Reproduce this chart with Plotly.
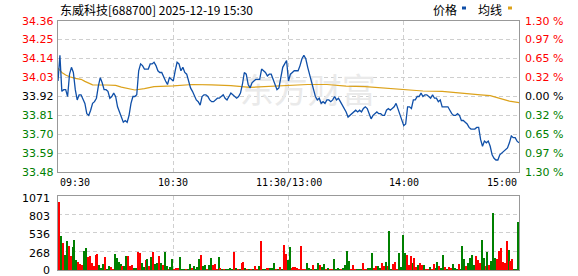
import plotly.graph_objects as go

# ---------------- data ----------------
prev_close = 33.92
title_text = "东威科技[688700] 2025-12-19 15:30"

minutes = list(range(241))
price = [
    34.01, 34.16, 33.95, 33.96, 33.96, 33.92, 34.05, 34.09, 34.06, 33.96,
    33.90, 33.93, 33.93, 33.90, 33.88, 33.82, 33.81, 33.84, 33.88, 33.89,
    33.91, 33.98, 34.03, 34.00, 33.96, 33.96, 33.95, 33.91, 33.92, 33.94,
    33.92, 33.86, 33.83, 33.79, 33.77, 33.78, 33.77, 33.81, 33.88, 33.92,
    33.92, 33.93, 34.07, 34.11, 34.10, 34.08, 34.08, 34.08, 34.11, 34.11,
    34.12, 34.10, 34.07, 34.06, 34.06, 34.03, 34.01, 33.99, 34.03, 34.02,
    34.01, 34.07, 34.12, 34.11, 34.07, 34.09, 34.06, 34.05, 34.00, 33.97,
    33.95, 33.92, 33.90, 33.89, 33.87, 33.92, 33.93, 33.93, 33.92, 33.90,
    33.89, 33.89, 33.90, 33.91, 33.91, 33.92, 33.93, 33.91, 33.90, 33.92,
    33.94, 33.93, 33.92, 33.91, 33.92, 33.94, 33.99, 34.06, 34.05, 33.99,
    33.97, 34.00, 34.01, 34.02, 34.02, 34.02, 34.08, 34.07, 34.06, 34.04,
    34.05, 34.05, 34.02, 33.99, 33.96, 33.97, 34.03, 34.09, 34.11, 34.13,
    34.01, 34.05, 34.06, 34.07, 34.07, 34.07, 34.10, 34.14, 34.16, 34.14,
    34.09, 34.05, 34.01, 33.96, 33.92, 33.90, 33.91, 33.88, 33.89, 33.88,
    33.90, 33.90, 33.89, 33.90, 33.92, 33.90, 33.91, 33.89, 33.87, 33.85,
    33.83, 33.80, 33.81, 33.82, 33.83, 33.84, 33.83, 33.84, 33.83, 33.85,
    33.86, 33.85, 33.82, 33.79, 33.81, 33.82, 33.83, 33.82, 33.82, 33.81,
    33.81, 33.84, 33.85, 33.84, 33.85, 33.86, 33.88, 33.85, 33.81, 33.78,
    33.75, 33.76, 33.86, 33.86, 33.85, 33.90, 33.90, 33.92, 33.92, 33.94,
    33.92, 33.93, 33.93, 33.92, 33.91, 33.93, 33.91, 33.91, 33.89, 33.90,
    33.86, 33.86, 33.86, 33.86, 33.84, 33.82, 33.81, 33.81, 33.82, 33.81,
    33.78, 33.78, 33.77, 33.76, 33.74, 33.73, 33.73, 33.73, 33.74, 33.74,
    33.67, 33.63, 33.66, 33.65, 33.66, 33.63, 33.58, 33.56, 33.55, 33.55,
    33.58, 33.59, 33.60, 33.61, 33.62, 33.65, 33.69, 33.68, 33.68, 33.66,
    33.65,
]

avg_minutes = [0, 2, 4, 6, 9, 12, 14, 16, 18, 25, 30, 33, 37, 40, 45, 50, 60,
               70, 80, 90, 100, 110, 120, 130, 140, 150, 160, 170, 180, 190,
               200, 210, 220, 225, 230, 235, 240]
avg_price = [34.085, 34.06, 34.045, 34.035, 34.026, 34.02, 34.008, 33.997,
             33.988, 33.987, 33.985, 33.975, 33.965, 33.958, 33.966, 33.977,
             33.982, 33.99, 33.988, 33.983, 33.973, 33.98, 33.985, 33.99,
             33.99, 33.98, 33.978, 33.97, 33.958, 33.952, 33.95, 33.942,
             33.93, 33.925, 33.91, 33.893, 33.884]

vol_minutes = list(range(1, 241))
volume = [
    984, 492, 391, 217, 420, 347, 203, 333, 434, 145,
    116, 87, 77, 275, 318, 188, 203, 101, 58, 217,
    232, 72, 29, 87, 188, 14, 58, 43, 14, 232,
    174, 116, 87, 58, 58, 203, 203, 58, 72, 29,
    29, 260, 246, 101, 43, 145, 159, 58, 188, 260,
    87, 101, 203, 101, 72, 260, 58, 14, 43, 159,
    14, 29, 29, 188, 14, 14, 14, 14, 87, 29,
    58, 14, 43, 159, 217, 58, 72, 14, 72, 174,
    72, 87, 14, 188, 29, 14, 14, 14, 14, 29,
    14,
    260, 29, 14, 14, 101, 116, 29, 14, 14, 14,
    14, 58, 14, 58, 420, 14, 14, 29, 29, 29,
    29, 101, 14, 14, 43, 14, 362, 232, 145, 333, 29,
    # afternoon
    43, 43, 29, 14, 347, 14, 14, 101, 29, 14,
    72, 14, 14, 101, 72, 43, 87, 14, 29, 14,
    14, 159, 14, 29, 14, 14, 29, 72, 275, 130,
    14, 72, 14, 14, 14, 14, 101, 14, 14, 29,
    29, 246, 29, 58, 58, 29, 101, 58, 116, 58,
    564, 14, 87, 116, 14, 246, 43, 507, 246, 217,
    72, 203, 101, 174, 43, 72, 101, 72, 72, 14,
    14, 43, 14, 87, 29, 116, 58, 29, 217, 43,
    14, 43, 29, 87, 29, 14, 87,
    14,
    347, 159, 58, 101, 174, 217, 72, 203, 145, 101,
    434, 174, 58, 260, 72, 130, 825, 174, 159, 275,
    318, 116, 101, 420, 289, 130, 159, 14,
    14,
    695,
]
# 1 = price up (red), -1 = price down (green)
vol_dir = [
    1, -1, 1, -1, -1, 1, 1, -1, -1, -1,
    1, 1, 1, -1, -1, 1, 1, 1, 1, 1,
    1, -1, -1, -1, 1, -1, -1, 1, 1, -1,
    -1, -1, -1, 1, -1, -1, 1, 1, 1, -1,
    -1, 1, 1, -1, -1, 1, -1, 1, -1, 1,
    -1, -1, 1, -1, 1, -1, -1, 1, -1, -1,
    1, 1, 1, -1, -1, -1, 1, -1, -1, 1,
    -1, -1, -1, -1, 1, -1, -1, 1, -1, -1,
    1, 1, 1, -1, 1, -1, 1, -1, -1, -1,
    -1,
    1, -1, 1, -1, 1, 1, -1, 1, -1, 1,
    -1, 1, 1, -1, 1, -1, -1, 1, 1, -1,
    -1, -1, 1, -1, 1, -1, 1, 1, -1, -1, 1,
    # afternoon
    1, 1, 1, 1, 1, 1, 1, -1, -1, -1,
    1, -1, -1, -1, 1, -1, -1, 1, -1, 1,
    1, -1, -1, -1, -1, 1, -1, -1, -1, -1,
    1, 1, 1, -1, -1, -1, 1, 1, 1, -1,
    -1, -1, 1, 1, -1, -1, 1, 1, -1, 1,
    -1, -1, 1, 1, 1, -1, -1, -1, -1, 1,
    1, 1, -1, 1, 1, -1, 1, 1, -1, 1,
    1, -1, 1, 1, -1, -1, 1, -1, -1, 1,
    -1, 1, 1, -1, -1, -1, 1,
    -1,
    -1, -1, 1, -1, -1, -1, -1, 1, 1, 1,
    -1, -1, 1, -1, 1, -1, -1, -1, 1, 1,
    1, 1, 1, 1, -1, 1, 1, -1,
    -1,
    -1,
]

price_ticks = [34.36, 34.25, 34.14, 34.03, 33.92, 33.81, 33.70, 33.59, 33.48]
pct_labels = ["1.30 %", "0.97 %", "0.65 %", "0.32 %", "0.00 %",
              "0.32 %", "0.65 %", "0.97 %", "1.30 %"]
vol_ticks = [1071, 803, 536, 268, 0]
time_ticks = [0, 60, 120, 180, 240]
time_labels = ["09:30", "10:30", "11:30/13:00", "14:00", "15:00"]
legend_labels = ["价格", "均线"]
watermark = "东方财富"

assert len(price) == len(minutes)
assert len(volume) == len(vol_minutes) == len(vol_dir)
assert len(avg_price) == len(avg_minutes)

# ---------------- styling ----------------
W, H = 578, 276
L, R = 58, 519
P_TOP, P_BOT = 21, 172
V_TOP, V_BOT = 196, 270
RED, GREEN, BLACK = "#ff0000", "#008000", "#000000"
BLUE, GOLD = "#0f4fa8", "#dca21b"
GRID = "#cfcfcf"
FRAME = "#999999"
NUM_FONT = "DejaVu Sans"
MONO_FONT = "DejaVu Sans Mono"
CJK_FONT = "Noto Sans CJK SC"


def px_x(p):
    return p / W


def px_y(p):
    return 1 - p / H


def dir_color(v):
    if v > prev_close + 1e-9:
        return RED
    if v < prev_close - 1e-9:
        return GREEN
    return BLACK


fig = go.Figure()

# watermark (under the lines)
fig.add_trace(go.Scatter(
    x=[130], y=[33.93], mode="text", text=[watermark],
    textfont=dict(family=CJK_FONT, size=34, color="#eaeaea"),
    hoverinfo="skip", xaxis="x", yaxis="y"))

fig.add_trace(go.Scatter(
    x=avg_minutes, y=avg_price, mode="lines",
    line=dict(color=GOLD, width=1.2), hoverinfo="skip",
    xaxis="x", yaxis="y"))
fig.add_trace(go.Scatter(
    x=minutes, y=price, mode="lines",
    line=dict(color=BLUE, width=1.3), hoverinfo="skip",
    xaxis="x", yaxis="y"))

fig.add_trace(go.Bar(
    x=vol_minutes, y=volume,
    marker=dict(color=[RED if d > 0 else GREEN for d in vol_dir],
                line=dict(width=0)),
    width=0.6, offset=-0.7, hoverinfo="skip",
    xaxis="x2", yaxis="y2"))

axis_common = dict(
    showgrid=True, gridcolor=GRID, griddash="4px,3px", gridwidth=1,
    showline=True, mirror=True, linecolor=FRAME, linewidth=1,
    zeroline=False, ticks="", showticklabels=False, fixedrange=True)

fig.update_layout(
    width=W, height=H,
    margin=dict(l=0, r=0, t=0, b=0),
    paper_bgcolor="white", plot_bgcolor="white",
    showlegend=False, bargap=0,
    xaxis=dict(domain=[px_x(L), px_x(R)], range=[0, 240],
               tickvals=time_ticks[1:-1], anchor="y", **axis_common),
    yaxis=dict(domain=[px_y(P_BOT), px_y(P_TOP)],
               range=[price_ticks[-1], price_ticks[0]],
               tickvals=price_ticks[1:-1], anchor="x", **axis_common),
    xaxis2=dict(domain=[px_x(L), px_x(R)], range=[0, 240],
                tickvals=time_ticks[1:-1], anchor="y2", **axis_common),
    yaxis2=dict(domain=[px_y(V_BOT), px_y(V_TOP)],
                range=[vol_ticks[-1], vol_ticks[0]],
                tickvals=vol_ticks[1:-1], anchor="x2", **axis_common),
)

ann = []
# left price labels and right percent labels
for v, pl in zip(price_ticks, pct_labels):
    c = dir_color(v)
    ann.append(dict(x=px_x(56), xref="paper", y=v, yref="y",
                    text=f"{v:.2f}", showarrow=False, xanchor="right",
                    yanchor="middle",
                    font=dict(family=NUM_FONT, size=11, color=c)))
    ann.append(dict(x=px_x(523), xref="paper", y=v, yref="y",
                    text=pl, showarrow=False, xanchor="left",
                    yanchor="middle",
                    font=dict(family=NUM_FONT, size=11, color=c)))
# volume labels
for v in vol_ticks:
    ann.append(dict(x=px_x(52), xref="paper", y=v, yref="y2",
                    text=str(v), showarrow=False, xanchor="right",
                    yanchor="middle", yshift=(-2 if v else 0),
                    font=dict(family=NUM_FONT, size=11, color=BLACK)))
# time labels
anchors = ["left", "center", "center", "center", "right"]
for t, lab, a in zip(time_ticks, time_labels, anchors):
    ann.append(dict(x=t, xref="x", y=px_y(182), yref="paper",
                    text=lab, showarrow=False, xanchor=a, yanchor="middle",
                    font=dict(family=MONO_FONT, size=10, color=BLACK)))
# title
ann.append(dict(x=px_x(58), xref="paper", y=px_y(9), yref="paper",
                text=title_text, showarrow=False, xanchor="left",
                yanchor="middle",
                font=dict(family=CJK_FONT, size=12, color=BLACK)))
# legend
ann.append(dict(x=px_x(431), xref="paper", y=px_y(9), yref="paper",
                text=legend_labels[0], showarrow=False, xanchor="left",
                yanchor="middle",
                font=dict(family=CJK_FONT, size=12, color=BLACK)))
ann.append(dict(x=px_x(476), xref="paper", y=px_y(9), yref="paper",
                text=legend_labels[1], showarrow=False, xanchor="left",
                yanchor="middle",
                font=dict(family=CJK_FONT, size=12, color=BLACK)))

shapes = [
    dict(type="rect", xref="paper", yref="paper",
         x0=px_x(462), x1=px_x(466), y0=px_y(9.5), y1=px_y(6.5),
         fillcolor=BLUE, line=dict(width=0)),
    dict(type="rect", xref="paper", yref="paper",
         x0=px_x(508), x1=px_x(512), y0=px_y(9.5), y1=px_y(6.5),
         fillcolor=GOLD, line=dict(width=0)),
]

fig.update_layout(annotations=ann, shapes=shapes)
fig.write_html("out.html", config={"displayModeBar": False})
